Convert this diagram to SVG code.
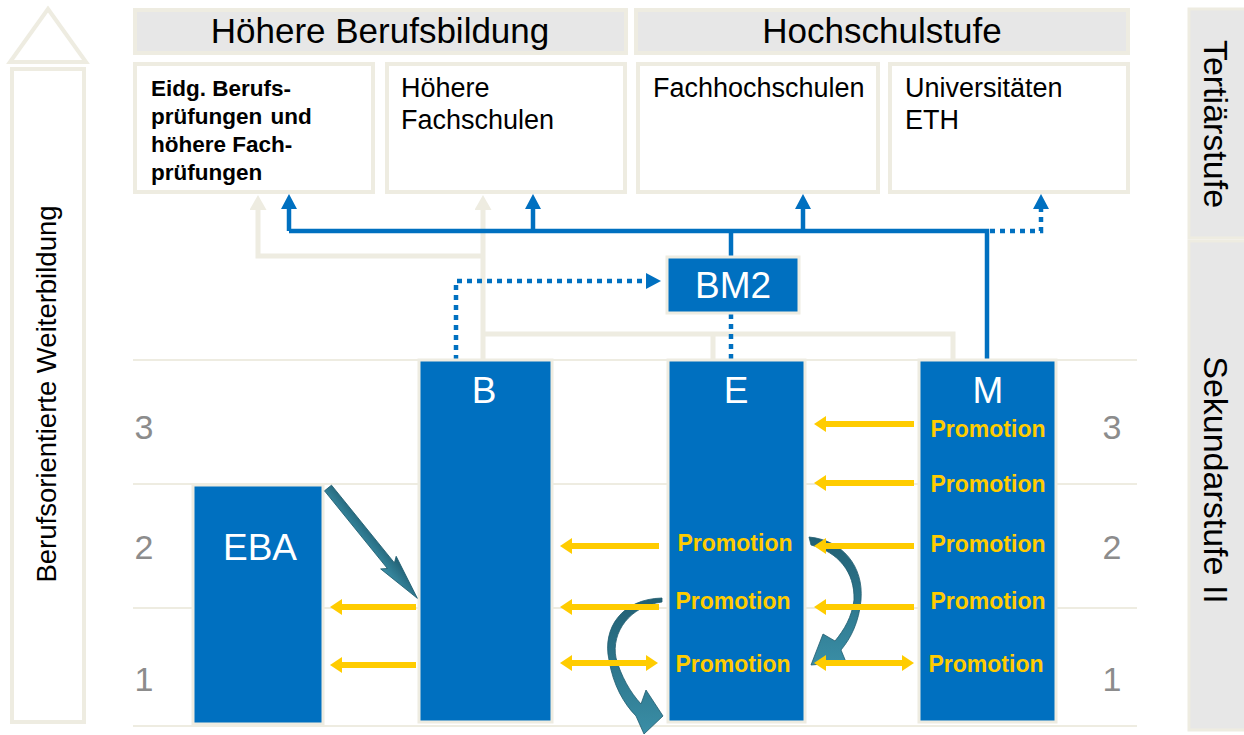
<svg xmlns="http://www.w3.org/2000/svg" width="1244" height="735" viewBox="0 0 1244 735">
<style>
text{font-family:"Liberation Sans",Arial,sans-serif}
.hdr{fill:#e7e7e7;stroke:#eeece1;stroke-width:4}
.box{fill:#fff;stroke:#eeece1;stroke-width:4}
.blue{fill:#0070c0;stroke:#eeece1;stroke-width:3}
.grid{stroke:#eeece1;stroke-width:2;fill:none}
.beige{stroke:#eeece1;stroke-width:5;fill:none}
.bl{stroke:#0070c0;stroke-width:4.5;fill:none}
.dot{stroke:#0070c0;stroke-width:4.5;fill:none;stroke-dasharray:5 5}
.ye{stroke:#ffcc00;stroke-width:6;fill:none}
.teal{fill:url(#tg);stroke:#1f5c6e;stroke-width:0.8}
.t{fill:#000}
.num{fill:#8c8c8c;font-size:34px;text-anchor:middle}
.lab{fill:#fff;font-size:37px;text-anchor:middle}
.pro{fill:#ffcc00;font-size:23px;font-weight:bold;text-anchor:middle}
</style>
<defs>
<linearGradient id="tg" x1="0" y1="0" x2="0" y2="1">
<stop offset="0" stop-color="#215f73"/><stop offset="1" stop-color="#3a8ea6"/>
</linearGradient>
<marker id="ab" markerUnits="userSpaceOnUse" markerWidth="15" markerHeight="16" viewBox="0 0 15 16" refX="0" refY="8" orient="auto"><path d="M0,0 L15,8 L0,16 Z" fill="#0070c0"/></marker>
<marker id="ag" markerUnits="userSpaceOnUse" markerWidth="15" markerHeight="17" viewBox="0 0 15 17" refX="0" refY="8.5" orient="auto"><path d="M0,0 L15,8.5 L0,17 Z" fill="#eeece1"/></marker>
<marker id="ay" markerUnits="userSpaceOnUse" markerWidth="12" markerHeight="16" viewBox="0 0 12 16" refX="1" refY="8" orient="auto-start-reverse"><path d="M0,0 L12,8 L0,16 Z" fill="#ffcc00"/></marker>
</defs>

<g id="weiterbildung">
<polygon points="48,9 10,62 86,62" fill="#fff" stroke="#eeece1" stroke-width="4"/>
<rect x="12" y="69" width="72" height="653" fill="#fff" stroke="#eeece1" stroke-width="4"/>
<text transform="translate(56,394) rotate(-90)" font-size="27.5" text-anchor="middle" class="t">Berufsorientierte Weiterbildung</text>
</g>

<g id="grid">
<line class="grid" x1="133" y1="360" x2="1137" y2="360"/>
<line class="grid" x1="133" y1="484" x2="1137" y2="484"/>
<line class="grid" x1="133" y1="608" x2="1137" y2="608"/>
<line class="grid" x1="133" y1="726" x2="1137" y2="726"/>
<text class="num" x="144" y="439">3</text>
<text class="num" x="144" y="559">2</text>
<text class="num" x="144" y="691">1</text>
<text class="num" x="1112" y="439">3</text>
<text class="num" x="1112" y="559">2</text>
<text class="num" x="1112" y="691">1</text>
</g>

<g id="header-hbb">
<rect class="hdr" x="135" y="10" width="491" height="43"/>
<text x="380" y="43" font-size="35" text-anchor="middle" class="t">Höhere Berufsbildung</text>
</g>
<g id="header-hs">
<rect class="hdr" x="636" y="10" width="492" height="43"/>
<text x="882" y="43" font-size="35" text-anchor="middle" class="t">Hochschulstufe</text>
</g>

<g id="tertiaer">
<rect x="1189" y="9" width="60" height="229" fill="#e7e7e7" stroke="#eeece1" stroke-width="3"/>
<text transform="translate(1204,124) rotate(90)" font-size="34" text-anchor="middle" class="t">Tertiärstufe</text>
</g>
<g id="sekundar">
<rect x="1189" y="241" width="60" height="489" fill="#e7e7e7" stroke="#eeece1" stroke-width="3"/>
<text transform="translate(1204,480) rotate(90)" font-size="34" text-anchor="middle" class="t">Sekundarstufe II</text>
</g>

<g id="box-bp">
<rect class="box" x="135" y="64" width="238" height="128"/>
<text font-size="22.5" font-weight="bold" class="t"><tspan x="151" y="96">Eidg. Berufs-</tspan><tspan x="151" y="124" word-spacing="2">prüfungen und</tspan><tspan x="151" y="152">höhere Fach-</tspan><tspan x="151" y="180">prüfungen</tspan></text>
</g>
<g id="box-hf">
<rect class="box" x="387" y="64" width="238" height="128"/>
<text font-size="27" class="t"><tspan x="401" y="97">Höhere</tspan><tspan x="401" y="129">Fachschulen</tspan></text>
</g>
<g id="box-fh">
<rect class="box" x="638" y="64" width="240" height="128"/>
<text x="653" y="97" font-size="27" class="t">Fachhochschulen</text>
</g>
<g id="box-uni">
<rect class="box" x="890" y="64" width="238" height="128"/>
<text font-size="27" class="t"><tspan x="905" y="97">Universitäten</tspan><tspan x="905" y="129">ETH</tspan></text>
</g>

<g id="connectors">
<path class="beige" d="M483,360 V210" marker-end="url(#ag)"/>
<path class="beige" d="M483,256 H258 V210" marker-end="url(#ag)"/>
<path class="beige" d="M483,334 H953 V360 M713,334 V360"/>
<path class="bl" d="M289,231 H987 V360"/>
<path class="bl" d="M289,231 V209" marker-end="url(#ab)"/>
<path class="bl" d="M533,231 V209" marker-end="url(#ab)"/>
<path class="bl" d="M803,231 V209" marker-end="url(#ab)"/>
<path class="bl" d="M731,231 V257"/>
<path class="dot" d="M990,231 H1041 V209" marker-end="url(#ab)"/>
<path class="dot" d="M456,360 V281 H646" marker-end="url(#ab)"/>
<path class="dot" d="M731,314 V360"/>
</g>

<g id="node-bm2">
<rect class="blue" x="667" y="257" width="132" height="56"/>
<text class="lab" x="733" y="298">BM2</text>
</g>
<g id="node-eba">
<rect class="blue" x="193" y="485" width="130" height="239"/>
<text class="lab" x="260" y="560">EBA</text>
</g>
<g id="node-b">
<rect class="blue" x="419" y="360" width="133" height="362"/>
<text class="lab" x="484" y="403">B</text>
</g>
<g id="node-e">
<rect class="blue" x="668" y="360" width="137" height="362"/>
<text class="lab" x="736" y="403">E</text>
<text class="pro" x="735" y="551">Promotion</text>
<text class="pro" x="733" y="609">Promotion</text>
<text class="pro" x="733" y="672">Promotion</text>
</g>
<g id="node-m">
<rect class="blue" x="919" y="360" width="137" height="362"/>
<text class="lab" x="988" y="403">M</text>
<text class="pro" x="988" y="437">Promotion</text>
<text class="pro" x="988" y="492">Promotion</text>
<text class="pro" x="988" y="552">Promotion</text>
<text class="pro" x="988" y="609">Promotion</text>
<text class="pro" x="986" y="672">Promotion</text>
</g>

<g id="teal-arrows">
<polygon class="teal" transform="translate(328,488) rotate(51)" points="0,-4.5 100,-4.5 96,-10 142,0 96,10 100,4.5 0,4.5"/>
<path class="teal" d="M662,598 C622,599 602,628 609,660 C613,685 624,704 636,716 L644,734 L663,716 L646,690 L641,704 C630,692 621,676 616,658 C611,632 630,606 662,602 Z"/>
<path class="teal" d="M809,537 C842,540 864,566 861,600 C859,622 851,638 841,650 L846,662 L811,665 L823,634 L835,641 C844,630 852,617 854,600 C855,572 838,552 811,545 Z"/>
</g>

<g id="promotion-arrows">
<path class="ye" d="M416,607 H341" marker-end="url(#ay)"/>
<path class="ye" d="M416,665 H341" marker-end="url(#ay)"/>
<path class="ye" d="M659,546 H571" marker-end="url(#ay)"/>
<path class="ye" d="M659,607 H571" marker-end="url(#ay)"/>
<path class="ye" d="M571,663 H647" marker-start="url(#ay)" marker-end="url(#ay)"/>
<path class="ye" d="M914,424 H825" marker-end="url(#ay)"/>
<path class="ye" d="M914,483 H825" marker-end="url(#ay)"/>
<path class="ye" d="M914,546 H825" marker-end="url(#ay)"/>
<path class="ye" d="M914,607 H825" marker-end="url(#ay)"/>
<path class="ye" d="M825,663 H903" marker-start="url(#ay)" marker-end="url(#ay)"/>
</g>
</svg>
